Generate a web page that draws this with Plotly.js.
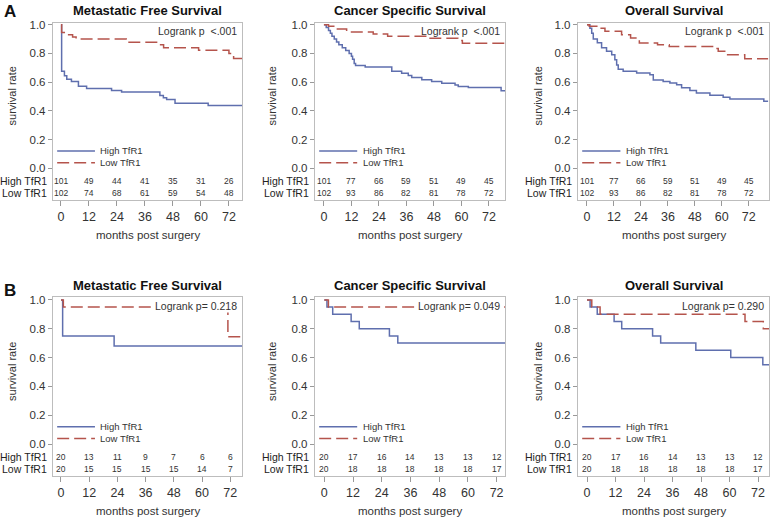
<!DOCTYPE html>
<html>
<head>
<meta charset="utf-8">
<script src="https://cdn.plot.ly/plotly-3.0.1.min.js"></script>
<style>
body { margin: 0; background: #fff; }
#km { width: 772px; height: 520px; }
</style>
</head>
<body>
<div id="km"></div>
<script>
// ---- data (months, survival rate) ----
var riskTimes = [0, 12, 24, 36, 48, 60, 72]
var panelTitles = ['Metastatic Free Survival', 'Cancer Specific Survival', 'Overall Survival',
                   'Metastatic Free Survival', 'Cancer Specific Survival', 'Overall Survival']
var logrankText = ['Logrank p&nbsp;&nbsp;&lt;.001', 'Logrank p&nbsp;&nbsp;&lt;.001', 'Logrank p&nbsp;&nbsp;&lt;.001',
                   'Logrank p= 0.218', 'Logrank p= 0.049', 'Logrank p= 0.290']
var groupNames = ['High TfR1', 'Low TfR1']

// A - metastatic free
var a1HighT = [0, 0.3, 1.5, 2.5, 4.5, 7.5, 11, 21.7, 26, 42.4, 43.9, 45.3, 48.9, 63.1, 77.6]
var a1HighS = [1.0, 0.675, 0.645, 0.62, 0.605, 0.571, 0.555, 0.541, 0.531, 0.507, 0.49, 0.478, 0.452, 0.436, 0.436]
var a1LowT = [0, 0.3, 2, 5, 6.5, 28, 41, 44, 59, 72, 74, 77.6]
var a1LowS = [1.0, 0.945, 0.93, 0.915, 0.90, 0.877, 0.86, 0.84, 0.822, 0.80, 0.765, 0.765]
var a1RiskHigh = [101, 49, 44, 41, 35, 31, 26]
var a1RiskLow = [102, 74, 68, 61, 59, 54, 48]

// A - cancer specific
var a2HighT = [0, 1, 2, 2.8, 3.5, 4.5, 5.5, 6.5, 8, 9.5, 11, 12, 12.5, 13.2, 13.8, 18, 29.6, 33.9, 36.8, 38.3, 42.7, 47, 51.4, 57.2, 58.6, 63, 77.3, 79.8]
var a2HighS = [1.0, 0.98, 0.96, 0.94, 0.92, 0.90, 0.88, 0.86, 0.84, 0.82, 0.80, 0.78, 0.76, 0.73, 0.715, 0.705, 0.675, 0.662, 0.646, 0.632, 0.616, 0.604, 0.592, 0.58, 0.569, 0.563, 0.54, 0.54]
var a2LowT = [0, 2, 4.8, 9.9, 21.5, 27.8, 45.6, 58.4, 60.4, 79.8]
var a2LowS = [1.0, 0.99, 0.97, 0.95, 0.935, 0.92, 0.905, 0.89, 0.87, 0.87]
var a2RiskHigh = [101, 77, 66, 59, 51, 49, 45]
var a2RiskLow = [102, 93, 86, 82, 81, 78, 72]

// A - overall
var a3HighT = [0, 1.3, 2.1, 2.8, 4.6, 6.5, 8.7, 11, 12.4, 13.2, 13.9, 16.1, 22.1, 28, 29.5, 33.9, 36.9, 39.9, 42.1, 45.8, 48.7, 54.7, 60.6, 63.6, 78.7, 80.6]
var a3HighS = [1.0, 0.975, 0.94, 0.90, 0.875, 0.84, 0.815, 0.79, 0.755, 0.72, 0.69, 0.675, 0.663, 0.652, 0.615, 0.605, 0.594, 0.582, 0.56, 0.541, 0.524, 0.508, 0.494, 0.482, 0.466, 0.466]
var a3LowT = [0, 1, 5.8, 8, 15.4, 19.4, 23.3, 31.4, 36.6, 56.4, 58.4, 61.3, 70.2, 80.6]
var a3LowS = [1.0, 0.99, 0.975, 0.955, 0.93, 0.907, 0.872, 0.861, 0.849, 0.835, 0.815, 0.79, 0.763, 0.763]
var a3RiskHigh = [101, 77, 66, 59, 51, 49, 45]
var a3RiskLow = [102, 93, 86, 82, 81, 78, 72]

// B - metastatic free
var b1HighT = [0, 0.7, 22.6, 77]
var b1HighS = [1.0, 0.75, 0.68, 0.68]
var b1LowT = [0, 1, 71, 77]
var b1LowS = [1.0, 0.95, 0.745, 0.745]
var b1RiskHigh = [20, 13, 11, 9, 7, 6, 6]
var b1RiskLow = [20, 15, 15, 15, 15, 14, 7]

// B - cancer specific
var b2HighT = [0, 1.1, 3.5, 11.2, 14.6, 27.2, 30.7, 75.5]
var b2HighS = [1.0, 0.95, 0.90, 0.85, 0.80, 0.75, 0.70, 0.70]
var b2LowT = [0, 1.7, 75.5]
var b2LowS = [1.0, 0.95, 0.95]
var b2RiskHigh = [20, 17, 16, 14, 13, 13, 12]
var b2RiskLow = [20, 18, 18, 18, 18, 18, 17]

// B - overall
var b3HighT = [0, 1.3, 4.3, 11.4, 14.6, 27.6, 31, 45.8, 60.5, 74, 76.6]
var b3HighS = [1.0, 0.95, 0.90, 0.85, 0.80, 0.75, 0.70, 0.65, 0.60, 0.55, 0.55]
var b3LowT = [0, 2, 5.5, 66.5, 74.2, 76.6]
var b3LowS = [1.0, 0.95, 0.90, 0.85, 0.80, 0.80]
var b3RiskHigh = [20, 17, 16, 14, 13, 13, 12]
var b3RiskLow = [20, 18, 18, 18, 18, 18, 17]

var curves = [
  [a1HighT, a1HighS, a1LowT, a1LowS, a1RiskHigh, a1RiskLow],
  [a2HighT, a2HighS, a2LowT, a2LowS, a2RiskHigh, a2RiskLow],
  [a3HighT, a3HighS, a3LowT, a3LowS, a3RiskHigh, a3RiskLow],
  [b1HighT, b1HighS, b1LowT, b1LowS, b1RiskHigh, b1RiskLow],
  [b2HighT, b2HighS, b2LowT, b2LowS, b2RiskHigh, b2RiskLow],
  [b3HighT, b3HighS, b3LowT, b3LowS, b3RiskHigh, b3RiskLow]
]

// ---- layout ----
var W = 772, H = 520
var FONT = 'Liberation Sans, Arial, sans-serif'
var blue = '#5f6fae', red = '#b5544c'
var colPx = [[53, 242], [315, 505], [578, 769]]
var rowPx = [[23, 200], [297, 476]]
var xRanges = [[-3.4, 77.6], [-3.9, 79], [-4, 81], [-3.4, 77], [-3.9, 75.5], [-3.8, 76.6]]
var yRanges = [[-0.222, 1.012], [-0.222, 1.02]]
var titleY = [10, 285]
var pvalY = [31, 306]
var yTitleX = [12, 272, 538]

var data = []
var annotations = []
var shapes = []
var layout = {
  width: W, height: H,
  margin: {l: 0, r: 0, t: 0, b: 0},
  paper_bgcolor: '#fff', plot_bgcolor: '#fff',
  showlegend: false,
  font: {family: FONT, color: '#222'}
}

function note(o) {
  // every annotation centred unless told otherwise
  o.showarrow = false
  if (!o.xanchor) o.xanchor = 'center'
  if (!o.yanchor) o.yanchor = 'middle'
  annotations.push(o)
}

for (var i = 0; i < 6; i++) {
  var col = i % 3, row = Math.floor(i / 3)
  var sfx = i === 0 ? '' : String(i + 1)
  var xr = 'x' + sfx, yr = 'y' + sfx
  var c = curves[i]

  data.push({x: c[0], y: c[1], xaxis: xr, yaxis: yr, type: 'scatter', mode: 'lines',
    line: {shape: 'hv', color: blue, width: 1.5}, name: groupNames[0]})
  data.push({x: c[2], y: c[3], xaxis: xr, yaxis: yr, type: 'scatter', mode: 'lines',
    line: {shape: 'hv', color: red, width: 1.5, dash: '12px,5px'}, name: groupNames[1]})

  layout['xaxis' + sfx] = {
    domain: [colPx[col][0] / W, colPx[col][1] / W], range: xRanges[i], anchor: yr,
    tickvals: riskTimes, ticks: 'outside', ticklen: 5, tickcolor: '#999',
    showline: true, mirror: true, linecolor: '#bdbdbd', linewidth: 1.2,
    showgrid: false, zeroline: false, tickfont: {size: 12.5, color: '#333'}
  }
  layout['yaxis' + sfx] = {
    domain: [1 - rowPx[row][1] / H, 1 - rowPx[row][0] / H], range: yRanges[row], anchor: xr,
    tickvals: [0, 0.2, 0.4, 0.6, 0.8, 1.0], tickformat: '.1f', ticks: 'outside', ticklen: 4,
    tickcolor: '#999', showline: true, mirror: true, linecolor: '#bdbdbd', linewidth: 1.2,
    showgrid: false, zeroline: false, tickfont: {size: 11.5, color: '#333'}
  }

  // panel title
  note({xref: xr + ' domain', x: 0.5, yref: 'paper', y: 1 - titleY[row] / H,
    text: '<b>' + panelTitles[i] + '</b>', font: {size: 13, color: '#111'}})
  // logrank p
  note({xref: xr + ' domain', x: 0.979, xanchor: 'right', yref: 'paper', y: 1 - pvalY[row] / H,
    text: logrankText[i], font: {size: 10.5, color: '#333'},
    bgcolor: row === 1 ? '#fff' : 'rgba(0,0,0,0)', borderpad: 0})
  // axis titles
  note({xref: 'paper', x: yTitleX[col] / W, yref: yr, y: 0.5, textangle: -90,
    text: 'survival rate', font: {size: 11, color: '#333'}})
  note({xref: xr + ' domain', x: 0.5, yref: 'paper', y: 1 - (rowPx[row][1] + 35) / H,
    text: 'months post surgery', font: {size: 11.5, color: '#333'}})

  // legend inside the panel
  var legY = [0.12, 0.038]
  for (var g = 0; g < 2; g++) {
    shapes.push({type: 'line', xref: xr + ' domain', yref: yr, x0: 0.022, x1: 0.222, y0: legY[g], y1: legY[g],
      line: {color: g === 0 ? blue : red, width: 1.5, dash: g === 0 ? 'solid' : '12px,5px'}})
    note({xref: xr + ' domain', x: 0.24, xanchor: 'left', yref: yr, y: legY[g],
      text: groupNames[g], font: {size: 9.5, color: '#333'}})
  }

  // number at risk table
  var riskY = [-0.087, -0.175]
  for (var g2 = 0; g2 < 2; g2++) {
    note({xref: xr + ' domain', x: -0.021, xanchor: 'right', yref: yr, y: riskY[g2],
      text: groupNames[g2], font: {size: 10.5, color: '#222'}})
    var counts = c[4 + g2]
    for (var k = 0; k < riskTimes.length; k++) {
      note({xref: xr, x: riskTimes[k], yref: yr, y: riskY[g2],
        text: String(counts[k]), font: {size: 8.5, color: '#333'}})
    }
  }
}

// panel letters
note({xref: 'paper', x: 10 / W, yref: 'paper', y: 1 - 11 / H, text: '<b>A</b>',
  font: {size: 17, color: '#111'}})
note({xref: 'paper', x: 10 / W, yref: 'paper', y: 1 - 290 / H, text: '<b>B</b>',
  font: {size: 17, color: '#111'}})

layout.annotations = annotations
layout.shapes = shapes

Plotly.newPlot('km', data, layout, {staticPlot: true})
</script>
</body>
</html>
